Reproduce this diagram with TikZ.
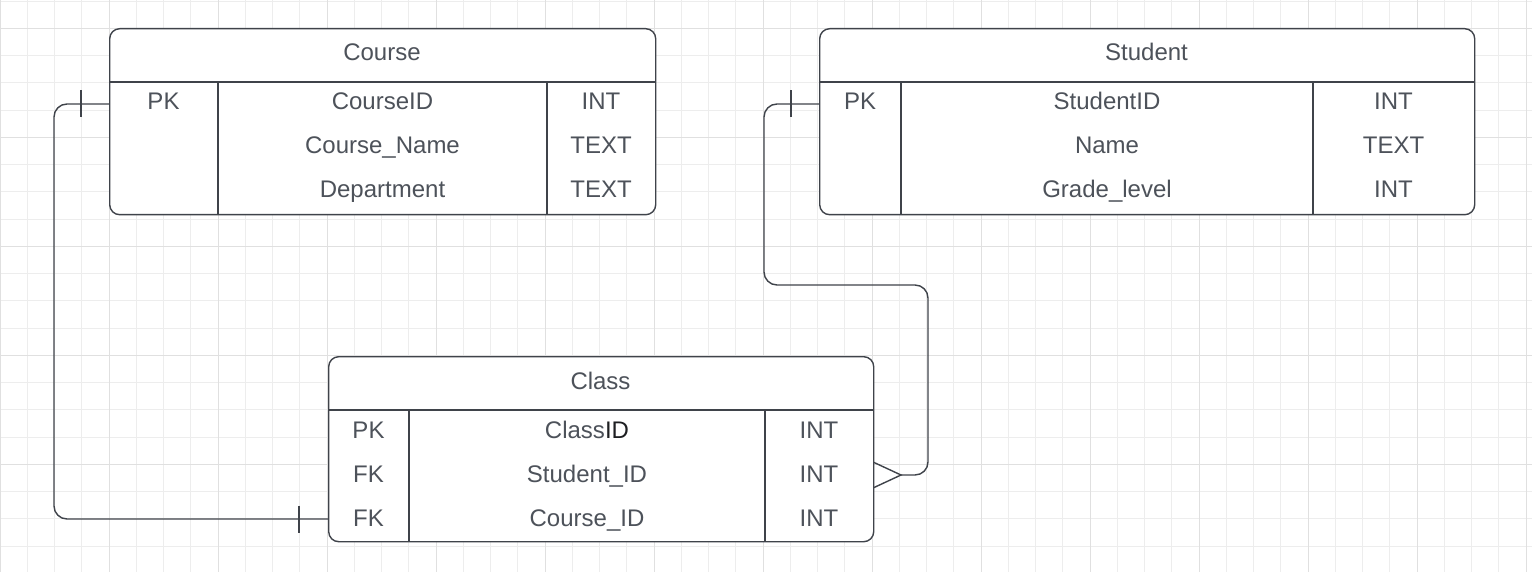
\documentclass[tikz,border=0pt]{standalone}
\usepackage{fontspec}
\setmainfont{Liberation Sans}
\usetikzlibrary{calc}
\definecolor{gridminor}{HTML}{EDEDED}
\definecolor{gridmajor}{HTML}{E0E0E0}
\definecolor{ink}{HTML}{3F434A}
\definecolor{txt}{HTML}{4D525A}
\definecolor{dark}{HTML}{1E1F22}
\begin{document}
\begin{tikzpicture}[x=1pt,y=-1pt,
  tbl/.style={draw=ink, line width=1.4pt, rounded corners=10pt, fill=white, anchor=north west, inner sep=0pt},
  lbl/.style={text=txt, font=\fontsize{24}{28}\selectfont, anchor=base, inner sep=0pt},
  rulel/.style={draw=ink, line width=1.4pt},
  conn/.style={draw=ink, line width=1.4pt, rounded corners=13pt},
  tickl/.style={draw=ink, line width=1.4pt}]
\useasboundingbox[fill=white] (0,0) rectangle (1532,572);
% grid
\foreach \i in {0,...,56} {\draw[gridminor, line width=0.8pt] (\i*27.25,0) -- (\i*27.25,572);}
\foreach \j in {0,...,20} {\draw[gridminor, line width=0.8pt] (0,1+\j*27.25) -- (1532,1+\j*27.25);}
\foreach \i in {0,4,...,56} {\draw[gridmajor, line width=0.8pt] (\i*27.25,0) -- (\i*27.25,572);}
\foreach \j in {1,5,...,17} {\draw[gridmajor, line width=0.8pt] (0,1+\j*27.25) -- (1532,1+\j*27.25);}

% ports
\coordinate (courseport) at (109,104);
\coordinate (studentport) at (819,104);
\coordinate (classportfk1) at (901,475);
\coordinate (classportfk2) at (328,519);
\coordinate (bendA) at (54,104);
\coordinate (bendB) at (764,104);
\coordinate (bendC) at (928,285);

% connectors
\draw[conn] (courseport) -- (bendA) |- (classportfk2);
\draw[conn] (studentport) -- (bendB) |- (bendC) |- (classportfk1);
\draw[tickl] ($(courseport)+(-28,-13.5)$) -- ++(0,27);
\draw[tickl] ($(classportfk2)+(-29,-13.5)$) -- ++(0,27);
\draw[tickl] ($(studentport)+(-28,-13.5)$) -- ++(0,27);
\draw[tickl] ($(classportfk1)+(-28,-13)$) -- (classportfk1) -- ($(classportfk1)+(-28,13)$);

% Course table
\node[tbl, minimum width=546pt, minimum height=186pt] (course) at (109,28) {};
\draw[rulel] (109,82) -- (655,82);
\draw[rulel] (218,82) -- (218,214);
\draw[rulel] (547,82) -- (547,214);
\node[lbl] (coursetitle) at (382,61) {Course};
\node[lbl] (coursepk) at (163.5,110) {PK};
\node[lbl] (courseid) at (382.5,110) {CourseID};
\node[lbl] (courseidt) at (601,110) {INT};
\node[lbl] (coursename) at (382.5,154) {Course\_Name};
\node[lbl] (coursenamet) at (601,154) {TEXT};
\node[lbl] (coursedept) at (382.5,198) {Department};
\node[lbl] (coursedeptt) at (601,198) {TEXT};

% Student table
\node[tbl, minimum width=655pt, minimum height=186pt] (student) at (819,28) {};
\draw[rulel] (819,82) -- (1474,82);
\draw[rulel] (901,82) -- (901,214);
\draw[rulel] (1313,82) -- (1313,214);
\node[lbl] (studenttitle) at (1146.5,61) {Student};
\node[lbl] (studentpk) at (860,110) {PK};
\node[lbl] (studentid) at (1107,110) {StudentID};
\node[lbl] (studentidt) at (1393.5,110) {INT};
\node[lbl] (studentname) at (1107,154) {Name};
\node[lbl] (studentnamet) at (1393.5,154) {TEXT};
\node[lbl] (studentgrade) at (1107,198) {Grade\_level};
\node[lbl] (studentgradet) at (1393.5,198) {INT};

% Class table
\node[tbl, minimum width=545pt, minimum height=185pt] (class) at (328,356) {};
\draw[rulel] (328,410) -- (873,410);
\draw[rulel] (409,410) -- (409,541);
\draw[rulel] (765,410) -- (765,541);
\node[lbl] (classtitle) at (600.5,389) {Class};
\node[lbl] (classpk) at (368.5,438) {PK};
\node[lbl] (classid) at (587,438) {Class\textcolor{dark}{ID}};
\node[lbl] (classidt) at (819,438) {INT};
\node[lbl] (classfk1) at (368.5,482) {FK};
\node[lbl] (classsid) at (587,482) {Student\_ID};
\node[lbl] (classsidt) at (819,482) {INT};
\node[lbl] (classfk2) at (368.5,526) {FK};
\node[lbl] (classcid) at (587,526) {Course\_ID};
\node[lbl] (classcidt) at (819,526) {INT};
\end{tikzpicture}
\end{document}
